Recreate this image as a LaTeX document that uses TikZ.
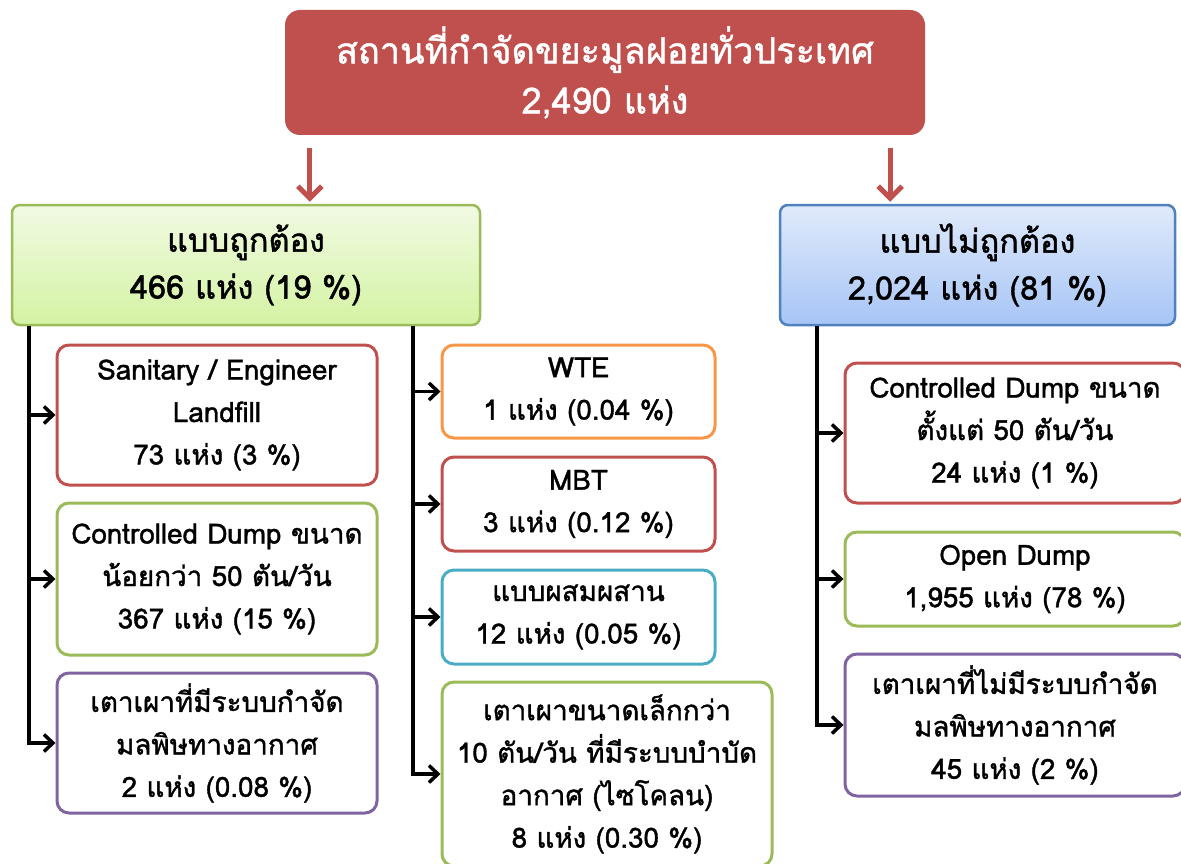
\documentclass[tikz,border=0pt]{standalone}
\usepackage{fontspec}
\setmainfont{Loma}[Script=Thai, FakeBold=1.3]
\usetikzlibrary{arrows.meta}

\definecolor{headred}{HTML}{C0504D}
\definecolor{okgreen}{HTML}{9BBB59}
\definecolor{oktop}{HTML}{F1FAE3}
\definecolor{okbottom}{HTML}{D4F3A3}
\definecolor{badblue}{HTML}{4F81BD}
\definecolor{badtop}{HTML}{E0EAFB}
\definecolor{badbottom}{HTML}{A7C5F6}
\definecolor{wteorange}{HTML}{F79646}
\definecolor{mixcyan}{HTML}{4BACC6}
\definecolor{burnpurple}{HTML}{8064A2}

\tikzset{
  headbox/.style={fill=headred, rounded corners=15pt, inner sep=0pt, align=center,
    text=white, font=\fontsize{36}{50}\selectfont},
  groupbox/.style={draw=#1, line width=2.5pt, rounded corners=8pt, inner sep=0pt,
    align=center, font=\fontsize{32.5}{47}\selectfont},
  sitebox/.style={draw=#1, line width=3pt, rounded corners=12pt, fill=white,
    inner sep=0pt, align=center, font=\fontsize{27.8}{42.5}\selectfont},
  down/.style={draw=headred, line width=5pt,
    -{Straight Barb[length=12pt,width=24pt,line width=5pt]},
    shorten <=13pt, shorten >=2pt},
  branch/.style={draw=black, line width=3.5pt,
    -{Straight Barb[length=9pt,width=17pt,line width=3.5pt]}}
}

\begin{document}
\begin{tikzpicture}[x=1pt,y=-1pt]
\useasboundingbox (0,0) rectangle (1181,864);
\clip (0,0) rectangle (1181,864);

\node[headbox, minimum width=640, minimum height=125] (all) at (605,72.5)
  {สถานที่กำจัดขยะมูลฝอยทั่วประเทศ\\2,490 แห่ง};

\node[groupbox=okgreen, top color=oktop, bottom color=okbottom,
  minimum width=468, minimum height=120] (ok) at (246,265)
  {แบบถูกต้อง\\466 แห่ง (19 \%)};
\node[groupbox=badblue, top color=badtop, bottom color=badbottom,
  minimum width=395, minimum height=120] (bad) at (977.5,265)
  {แบบไม่ถูกต้อง\\2,024 แห่ง (81 \%)};

\node[sitebox=headred, minimum width=320, minimum height=140] (landfill) at (217,415)
  {Sanitary / Engineer\\Landfill\\73 แห่ง (3 \%)};
\node[sitebox=okgreen, minimum width=320, minimum height=152] (cdsmall) at (217,579)
  {Controlled Dump ขนาด\\น้อยกว่า 50 ตัน/วัน\\367 แห่ง (15 \%)};
\node[sitebox=burnpurple, minimum width=320, minimum height=140] (burnok) at (217,743)
  {เตาเผาที่มีระบบกำจัด\\มลพิษทางอากาศ\\2 แห่ง (0.08 \%)};

\node[sitebox=wteorange, minimum width=273, minimum height=93] (wte) at (578.5,391.5)
  {WTE\\1 แห่ง (0.04 \%)};
\node[sitebox=headred, minimum width=273, minimum height=94] (mbt) at (578.5,504)
  {MBT\\3 แห่ง (0.12 \%)};
\node[sitebox=mixcyan, minimum width=273, minimum height=94] (mix) at (578.5,617)
  {แบบผสมผสาน\\12 แห่ง (0.05 \%)};
\node[sitebox=okgreen, minimum width=330, minimum height=184] (burnsmall) at (607,774)
  {เตาเผาขนาดเล็กกว่า\\10 ตัน/วัน ที่มีระบบบำบัด\\อากาศ (ไซโคลน)\\8 แห่ง (0.30 \%)};

\node[sitebox=headred, minimum width=340, minimum height=140] (cdbig) at (1015,433)
  {Controlled Dump ขนาด\\ตั้งแต่ 50 ตัน/วัน\\24 แห่ง (1 \%)};
\node[sitebox=okgreen, minimum width=340, minimum height=94] (open) at (1015,579)
  {Open Dump\\1,955 แห่ง (78 \%)};
\node[sitebox=burnpurple, minimum width=340, minimum height=142] (burnbad) at (1015,725)
  {เตาเผาที่ไม่มีระบบกำจัด\\มลพิษทางอากาศ\\45 แห่ง (2 \%)};

\coordinate (okL) at ([xshift=18]ok.south west);
\coordinate (okM) at ([xshift=402]ok.south west);
\coordinate (badL) at ([xshift=38]bad.south west);

\draw[down] ([xshift=25]all.south west) -- ([xshift=25]all.south west |- ok.north);
\draw[down] ([xshift=-35]all.south east) -- ([xshift=-35]all.south east |- bad.north);

\draw[branch] (okL) |- (landfill.west);
\draw[branch] (okL) |- (cdsmall.west);
\draw[branch] (okL) |- (burnok.west);
\draw[branch] (okM) |- (wte.west);
\draw[branch] (okM) |- (mbt.west);
\draw[branch] (okM) |- (mix.west);
\draw[branch] (okM) |- (burnsmall.west);
\draw[branch] (badL) |- (cdbig.west);
\draw[branch] (badL) |- (open.west);
\draw[branch] (badL) |- (burnbad.west);
\end{tikzpicture}
\end{document}
